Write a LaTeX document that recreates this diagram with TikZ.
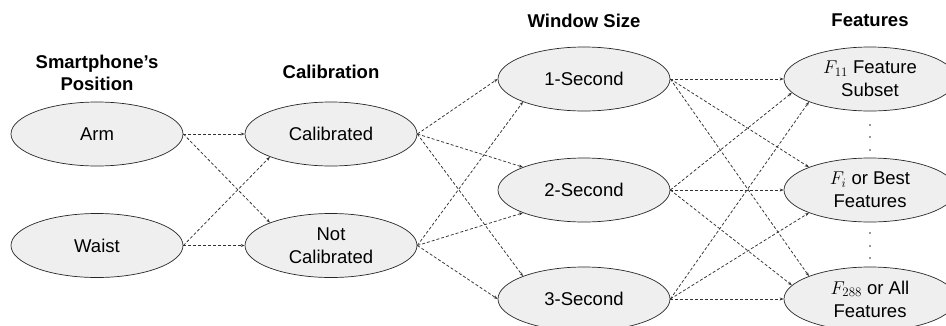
\RequirePackage{fix-cm}
\documentclass[tikz,border=0pt]{standalone}
\usepackage{fontspec}
\setmainfont{Liberation Sans}
\usetikzlibrary{arrows.meta,shapes.geometric}
\definecolor{ellfill}{RGB}{239,239,239}
\definecolor{linecol}{RGB}{50,50,50}
\begin{document}
\begin{tikzpicture}[x=1pt,y=1pt,
  choice/.style={ellipse,draw=black!85,line width=0.7pt,fill=ellfill,
    minimum width=172pt,minimum height=64pt,inner sep=0pt,align=center,
    font=\fontsize{18.5}{23}\selectfont},
  title/.style={align=center,font=\fontsize{18.5}{22}\selectfont\bfseries},
  link/.style={draw=linecol,line width=0.75pt,dash pattern=on 3pt off 2pt,
    -{Stealth[length=4pt,width=3pt]}}]
\useasboundingbox (0,0) rectangle (946,325);
% titles
\node[title] (t1) at (97,252) {Smartphone’s\\Position};
\node[title] (t2) at (331,253) {Calibration};
\node[title] (t3) at (584,304) {Window Size};
\node[title] (t4) at (870,305) {Features};
% nodes
\node[choice] (arm) at (97,191) {Arm};
\node[choice] (waist) at (97,79.5) {Waist};
\node[choice] (cal) at (331,191) {Calibrated};
\node[choice] (ncal) at (331,79.5) {Not\\Calibrated};
\node[choice] (s1) at (584,246) {1-Second};
\node[choice] (s2) at (584,135) {2-Second};
\node[choice] (s3) at (584,26) {3-Second};
\node[choice] (f11) at (870,246) {$F_{11}$ Feature\\Subset};
\node[choice] (fi) at (870,135) {$F_{i}$ or Best\\Features};
\node[choice] (f288) at (870,26) {$F_{288}$ or All\\Features};
% dots
\foreach \yy in {200,188,175,92,79,67}
  \fill[linecol] (870,\yy) circle (0.9pt);
% links
\draw[link] (arm.east) -- (cal.west);
\draw[link] (arm.east) -- (ncal.north west);
\draw[link] (waist.east) -- (cal.south west);
\draw[link] (waist.east) -- (ncal.west);
\draw[link] (cal.east) -- (s1.west);
\draw[link] (cal.east) -- (s2.north west);
\draw[link] (cal.east) -- (s3.north west);
\draw[link] (ncal.east) -- (s1.south west);
\draw[link] (ncal.east) -- (s2.south west);
\draw[link] (ncal.east) -- (s3.west);
\draw[link] (s1.east) -- (f11.west);
\draw[link] (s1.east) -- (fi.north west);
\draw[link] (s1.east) -- (f288.north west);
\draw[link] (s2.east) -- (f11.190);
\draw[link] (s2.east) -- (fi.west);
\draw[link] (s2.east) -- (f288.170);
\draw[link] (s3.east) -- (f11.south west);
\draw[link] (s3.east) -- (fi.south west);
\draw[link] (s3.east) -- (f288.west);
\end{tikzpicture}
\end{document}
